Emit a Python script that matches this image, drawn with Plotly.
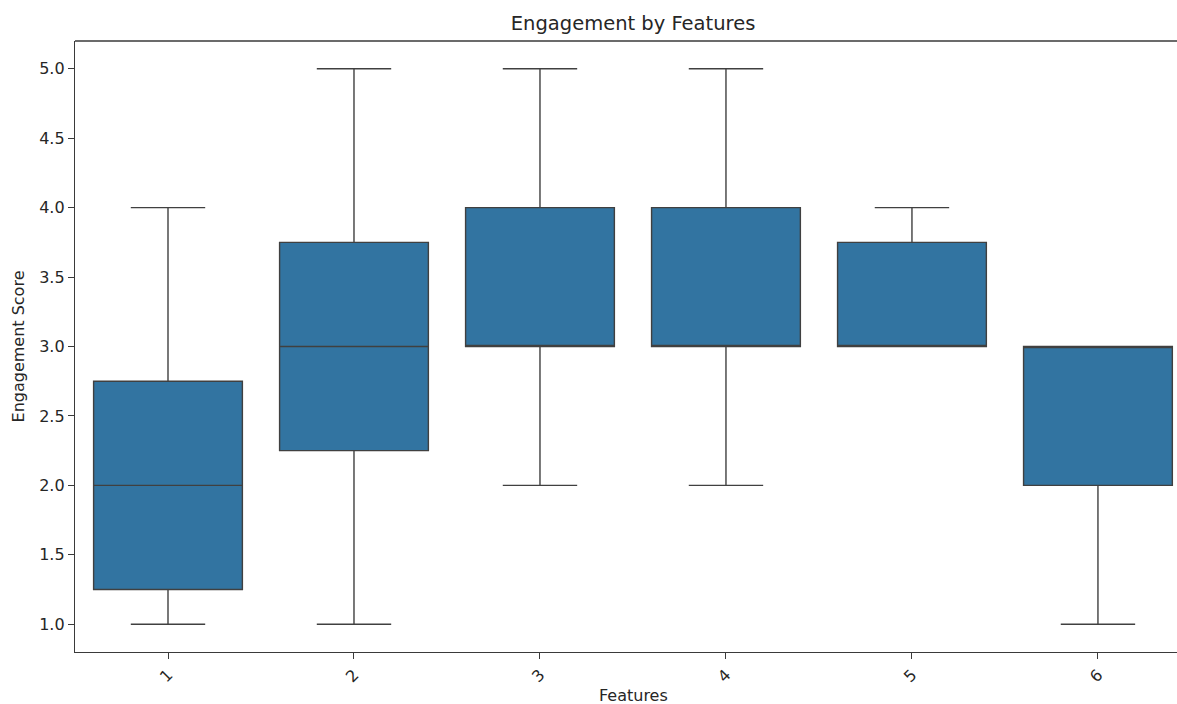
import plotly.graph_objects as go

# Feature groups and their box statistics (engagement scores)
features = ["1", "2", "3", "4", "5", "6"]
positions = [0, 1, 2, 3, 4, 5]
lower_whisker = [1.0, 1.0, 2.0, 2.0, 3.0, 1.0]
q1 = [1.25, 2.25, 3.0, 3.0, 3.0, 2.0]
median = [2.0, 3.0, 3.0, 3.0, 3.0, 3.0]
q3 = [2.75, 3.75, 4.0, 4.0, 3.75, 3.0]
upper_whisker = [4.0, 5.0, 5.0, 5.0, 4.0, 3.0]
y_ticks = [1.0, 1.5, 2.0, 2.5, 3.0, 3.5, 4.0, 4.5, 5.0]

FONT = "DejaVu Sans, Arial, sans-serif"
TEXT = "#262626"
SPINE = "#3a3a3a"
LABEL_SIZE = 16

fig = go.Figure()
fig.add_trace(go.Box(
    x=positions,
    q1=q1,
    median=median,
    q3=q3,
    lowerfence=lower_whisker,
    upperfence=upper_whisker,
    width=0.8,
    whiskerwidth=0.5,
    fillcolor="#3274a1",
    line=dict(color="#404040", width=1.4),
    boxpoints=False,
    showlegend=False,
))

fig.update_layout(
    width=1177,
    height=704,
    margin=dict(l=75, r=0, t=41, b=52),
    paper_bgcolor="white",
    plot_bgcolor="white",
    font=dict(family=FONT, size=LABEL_SIZE, color=TEXT),
    title=dict(
        text="Engagement by Features",
        x=0.5064, xref="paper", xanchor="center",
        y=1 - 23 / 704, yref="container", yanchor="middle",
        font=dict(family=FONT, size=19.5, color=TEXT),
    ),
    xaxis=dict(
        range=[-0.5, 5.425],
        tickmode="array",
        tickvals=positions,
        ticktext=features,
        tickangle=-45,
        showgrid=False,
        zeroline=False,
        showline=True,
        linecolor=SPINE,
        linewidth=1.3,
        ticks="outside",
        ticklen=6,
        tickcolor=SPINE,
        tickfont=dict(size=LABEL_SIZE, color=TEXT),
    ),
    yaxis=dict(
        range=[0.8, 5.2],
        tickmode="array",
        tickvals=y_ticks,
        ticktext=[f"{v:.1f}" for v in y_ticks],
        showgrid=False,
        zeroline=False,
        showline=True,
        linecolor=SPINE,
        linewidth=1.3,
        ticks="outside",
        ticklen=6,
        tickcolor=SPINE,
        tickfont=dict(size=LABEL_SIZE, color=TEXT),
        title=dict(text="Engagement Score", standoff=10,
                   font=dict(size=LABEL_SIZE, color=TEXT)),
    ),
    annotations=[
        dict(text="Features", xref="paper", yref="paper",
             x=0.5064, y=0, yshift=-43, xanchor="center", yanchor="middle",
             showarrow=False, font=dict(size=LABEL_SIZE, color=TEXT)),
    ],
    shapes=[
        # top spine
        dict(type="line", xref="paper", yref="paper",
             x0=0, x1=1, y0=1, y1=1,
             line=dict(color=SPINE, width=1.3)),
    ],
)

fig.write_html("out.html")
